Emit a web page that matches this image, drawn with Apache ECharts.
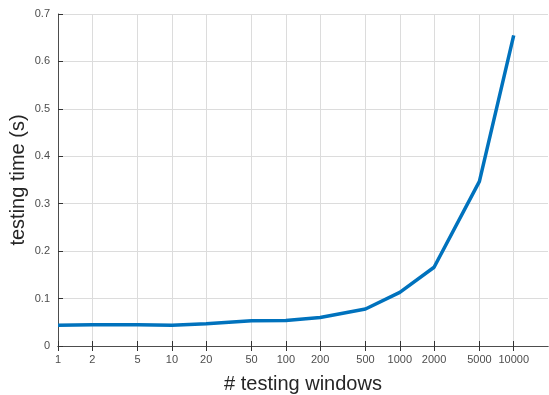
<!DOCTYPE html>
<html><head><meta charset="utf-8">
<script src="https://cdn.jsdelivr.net/npm/echarts@6/dist/echarts.min.js"></script>
<style>html,body{margin:0;padding:0;background:#fff}#c{width:549px;height:395px}</style>
</head><body><div id="c"></div>
<script>
const windows = [1, 2, 5, 10, 20, 50, 100, 200, 500, 1000, 2000, 5000, 10000];
const testTime = [0.044, 0.045, 0.045, 0.044, 0.047, 0.053, 0.054, 0.060, 0.078, 0.113, 0.166, 0.347, 0.655];
const xTicks = [1, 2, 5, 10, 20, 50, 100, 200, 500, 1000, 2000, 5000, 10000];
const yTicks = [0, 0.1, 0.2, 0.3, 0.4, 0.5, 0.6, 0.7];

const chart = echarts.init(document.getElementById('c'), null, {renderer: 'canvas'});
const labelColor = '#4d4d4d';
const font = 'Liberation Sans, Arial, sans-serif';
chart.setOption({
  animation: false,
  grid: {left: 58, right: 1, top: 14, bottom: 49, containLabel: false, outerBoundsMode: 'none'},
  xAxis: [{
    type: 'log', logBase: 10, min: 1, max: 20000,
    name: '# testing windows', nameLocation: 'middle', nameGap: 28, nameMoveOverlap: false,
    nameTextStyle: {fontSize: 20, color: '#262626', fontFamily: font},
    axisLine: {show: true, onZero: false, lineStyle: {color: '#4d4d4d', width: 1}},
    axisTick: {show: true, inside: true, length: 5, customValues: xTicks, lineStyle: {color: '#333'}},
    axisLabel: {customValues: xTicks, color: labelColor, fontSize: 11, fontFamily: font, margin: 8,
      formatter: v => String(Math.round(v))},
    splitLine: {show: true, lineStyle: {color: '#dcdcdc', width: 1}},
    minorSplitLine: {show: false}
  }, {
    type: 'log', logBase: 10, min: 1, max: 20000, position: 'top',
    axisLine: {show: true, lineStyle: {color: '#4d4d4d', width: 1}},
    axisTick: {show: true, inside: true, length: 5, customValues: xTicks, lineStyle: {color: '#333'}},
    axisLabel: {show: false},
    splitLine: {show: false}
  }],
  yAxis: {
    type: 'value', min: 0, max: 0.7, interval: 0.1,
    name: 'testing time (s)', nameLocation: 'middle', nameGap: 30, nameMoveOverlap: false,
    nameTextStyle: {fontSize: 20, color: '#262626', fontFamily: font},
    axisLine: {show: true, lineStyle: {color: '#4d4d4d', width: 1}},
    axisTick: {show: true, inside: true, length: 5, lineStyle: {color: '#333'}},
    axisLabel: {color: labelColor, fontSize: 11, fontFamily: font, margin: 8,
      formatter: v => (Math.round(v * 10) / 10).toString()},
    splitLine: {show: true, lineStyle: {color: '#dcdcdc', width: 1}}
  },
  series: [{
    type: 'line',
    data: windows.map((w, i) => [w, testTime[i]]),
    symbol: 'none',
    lineStyle: {color: '#0072BD', width: 3.5},
    clip: false
  }]
});
</script></body></html>
